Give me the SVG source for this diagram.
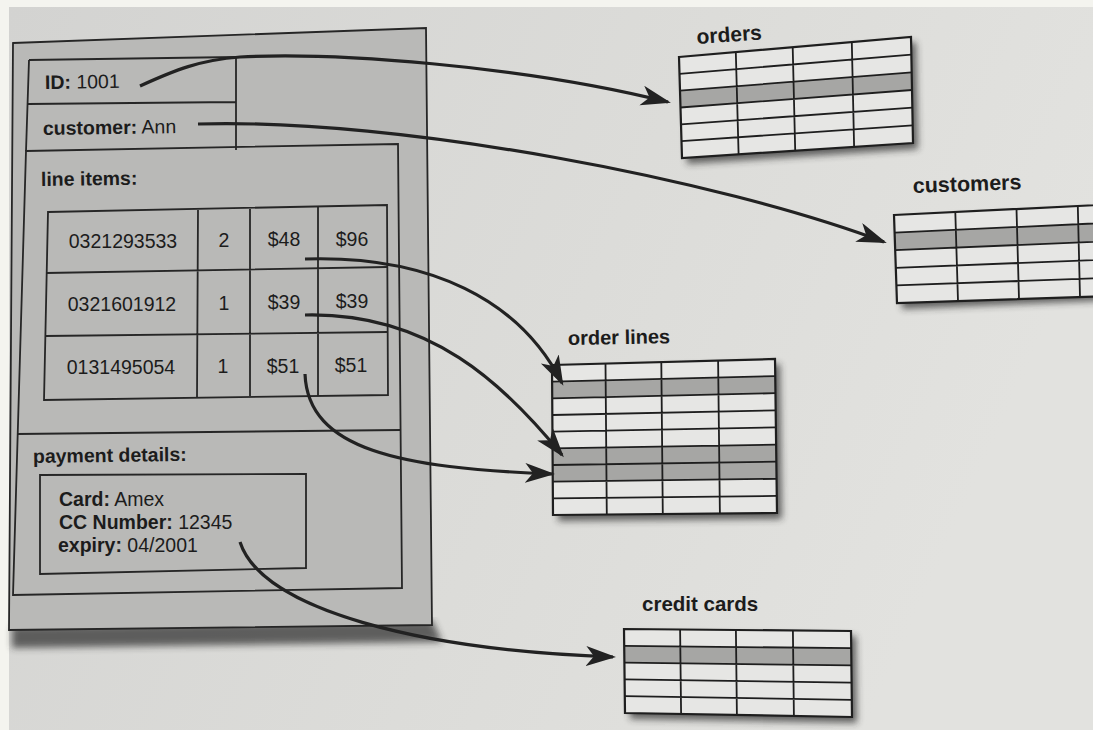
<svg xmlns="http://www.w3.org/2000/svg" width="1093" height="730" viewBox="0 0 1093 730">
  <defs>
    <linearGradient id="page" x1="0" y1="0" x2="1" y2="0.3">
      <stop offset="0" stop-color="#d3d3d1"/>
      <stop offset="0.6" stop-color="#dcdcd9"/>
      <stop offset="1" stop-color="#e2e2df"/>
    </linearGradient>
    <filter id="soft" x="-10%" y="-10%" width="130%" height="140%">
      <feGaussianBlur stdDeviation="3.5"/>
    </filter>
    <marker id="arrow" markerUnits="userSpaceOnUse" markerWidth="32" markerHeight="22" refX="27" refY="10" orient="auto" viewBox="0 0 32 22">
      <path d="M0,0 L30,10 L0,20 L8,10 Z" fill="#222"/>
    </marker>
    <style>
      .t { font-family: "Liberation Sans", Arial, sans-serif; font-size: 19.5px; fill: #1c1c1c; }
      .b { font-weight: bold; }
      .c { text-anchor: middle; }
      .lbl { font-family: "Liberation Sans", Arial, sans-serif; font-weight: bold; fill: #1c1c1c; }
      .edge { fill: none; stroke: #262626; stroke-width: 1.8; }
      .grid { fill: none; stroke: #1e1e1e; stroke-width: 1.8; }
      .cells { fill: #e6e6e4; stroke: none; }
      .frame { fill: none; stroke: #1e1e1e; stroke-width: 2.2; }
      .hi { fill: #a6a6a4; stroke: none; }
      .shadow { fill: #2a2a2a; opacity: 0.7; filter: url(#soft); }
      .conn { fill: none; stroke: #222; stroke-width: 3.2; marker-end: url(#arrow); }
    </style>
  </defs>

  <!-- paper -->
  <rect x="0" y="0" width="1093" height="730" fill="#f4f4ef"/>
  <rect x="9" y="7" width="1084" height="723" fill="url(#page)"/>

  <!-- order document -->
  <g id="order">
    <polygon class="shadow" points="12,626 432,620 442,642 12,648"/>
    <polygon points="13,43 426,28 432,625 9,630" fill="#b9b9b7" stroke="#262626" stroke-width="1.8"/>
    <!-- id / customer rows -->
    <path class="edge" d="M29,60 L236,57 L236,150 M28,104 L236,102 M29,60 L26,151"/>
    <!-- line items and payment details -->
    <polygon class="edge" points="26,151 398,144 402,588 13,595"/>
    <line class="edge" x1="17" y1="434" x2="400" y2="430"/>
    <!-- line items table -->
    <polygon class="edge" points="48,212 387,205 388,395 44,400"/>
    <path class="edge" d="M198,210 L197,397 M250,209 L250,396 M318,207 L318,396 M46,273 L387,267 M45,336 L388,332"/>
    <!-- payment box -->
    <polygon class="edge" points="40,475 306,474 306,568 40,574"/>

    <text class="t" x="45" y="89" transform="rotate(-0.8 45 89)"><tspan class="b">ID:</tspan> 1001</text>
    <text class="t" x="43" y="135" transform="rotate(-0.8 43 135)"><tspan class="b">customer:</tspan> Ann</text>
    <text class="t b" x="41" y="186" transform="rotate(-0.8 41 186)">line items:</text>

    <text class="t c" x="123" y="248">0321293533</text>
    <text class="t c" x="224" y="247">2</text>
    <text class="t c" x="284" y="246">$48</text>
    <text class="t c" x="352" y="245.5">$96</text>

    <text class="t c" x="122" y="311">0321601912</text>
    <text class="t c" x="224" y="310">1</text>
    <text class="t c" x="284" y="309">$39</text>
    <text class="t c" x="352" y="308">$39</text>

    <text class="t c" x="121" y="374">0131495054</text>
    <text class="t c" x="223" y="373">1</text>
    <text class="t c" x="283" y="372.5">$51</text>
    <text class="t c" x="351" y="371.5">$51</text>

    <text class="t b" x="33" y="463" transform="rotate(-0.8 33 463)">payment details:</text>
    <text class="t" x="59" y="506"><tspan class="b">Card:</tspan> Amex</text>
    <text class="t" x="59" y="529"><tspan class="b">CC Number:</tspan> 12345</text>
    <text class="t" x="58" y="552"><tspan class="b">expiry:</tspan> 04/2001</text>
  </g>

  <!-- orders table -->
  <g id="orders">
    <polygon class="shadow" points="684,62 916,42 918,149 687,164"/>
    <polygon class="cells" points="679,57 911,37 913,143 682,158"/>
    <polygon class="hi" points="680,90.7 911.7,72.3 912,90 680.5,107.5"/>
    <path class="grid" d="M735.8,52.1 L738.6,154.3 M792.7,47.2 L795.2,150.6 M851.8,42.1 L854.1,146.8
      M679.5,73.8 L911.3,54.7 M680,90.7 L911.7,72.3 M680.5,107.5 L912,90 M681,124.3 L912.3,107.7 M681.5,141.2 L912.7,125.3"/>
    <polygon class="frame" points="679,57 911,37 913,143 682,158"/>
    <text class="lbl" x="697" y="44" font-size="21" transform="rotate(-4 697 44)">orders</text>
  </g>

  <!-- customers table -->
  <g id="customers">
    <polygon class="shadow" points="899,220 1144,208 1146,299 902,309"/>
    <polygon class="cells" points="894,215 1139,203 1141,295 897,303"/>
    <polygon class="hi" points="894.6,232.6 1139.4,221.4 1139.8,239.8 895.2,250.2"/>
    <path class="grid" d="M955.3,212 L958,301 M1016.5,209 L1019,299 M1077.8,206 L1080,297
      M894.6,232.6 L1139.4,221.4 M895.2,250.2 L1139.8,239.8 M895.8,267.8 L1140.2,258.2 M896.4,285.4 L1140.6,276.6"/>
    <polygon class="frame" points="894,215 1139,203 1141,295 897,303"/>
    <text class="lbl" x="913" y="193" font-size="21.5" transform="rotate(-2 913 193)">customers</text>
  </g>

  <!-- order lines table -->
  <g id="order-lines">
    <polygon class="shadow" points="557,370 780,364 782,519 558,521"/>
    <polygon class="cells" points="552,365 775,359 777,513 553,515"/>
    <polygon class="hi" points="552.1,381.7 775.2,376.1 775.4,393.2 552.2,398.3"/>
    <polygon class="hi" points="552.6,448.3 776.1,444.6 776.3,461.7 552.7,465"/>
    <polygon class="hi" points="552.7,465 776.3,461.7 776.6,478.8 552.8,481.7"/>
    <path class="grid" d="M605.5,363.6 L606.8,514.5 M661.3,362.1 L662.8,514 M718.1,360.5 L719.9,513.5
      M552.1,381.7 L775.2,376.1 M552.2,398.3 L775.4,393.2 M552.3,415 L775.7,410.3 M552.4,431.7 L775.9,427.4
      M552.6,448.3 L776.1,444.6 M552.7,465 L776.3,461.7 M552.8,481.7 L776.6,478.8 M552.9,498.3 L776.8,495.9"/>
    <polygon class="frame" points="552,365 775,359 777,513 553,515"/>
    <text class="lbl" x="568" y="345" font-size="20" transform="rotate(-1 568 345)">order lines</text>
  </g>

  <!-- credit cards table -->
  <g id="credit-cards">
    <polygon class="shadow" points="629,634 856,636 857,723 630,719"/>
    <polygon class="cells" points="624,629 851,631 852,717 625,713"/>
    <polygon class="hi" points="624.2,645.8 851.2,648.2 851.4,665.4 624.4,662.6"/>
    <path class="grid" d="M680.1,629.5 L681.1,714 M735.9,630 L736.9,715 M792.9,630.5 L793.9,716
      M624.2,645.8 L851.2,648.2 M624.4,662.6 L851.4,665.4 M624.6,679.4 L851.6,682.6 M624.8,696.2 L851.8,699.8"/>
    <polygon class="frame" points="624,629 851,631 852,717 625,713"/>
    <text class="lbl" x="642" y="611" font-size="20.5">credit cards</text>
  </g>

  <!-- mappings from object fields to table rows -->
  <g id="connectors">
    <path class="conn" d="M140,86 C175,70 200,60 240,57 C330,52 520,65 668,102"/>
    <path class="conn" d="M198,124 C400,118 720,180 884,242"/>
    <path class="conn" d="M305,259 C430,255 520,300 562,383"/>
    <path class="conn" d="M305,315 C430,312 505,385 562,455"/>
    <path class="conn" d="M305,374 C308,450 400,468 552,474"/>
    <path class="conn" d="M240,542 C262,610 420,650 613,657"/>
  </g>
</svg>
